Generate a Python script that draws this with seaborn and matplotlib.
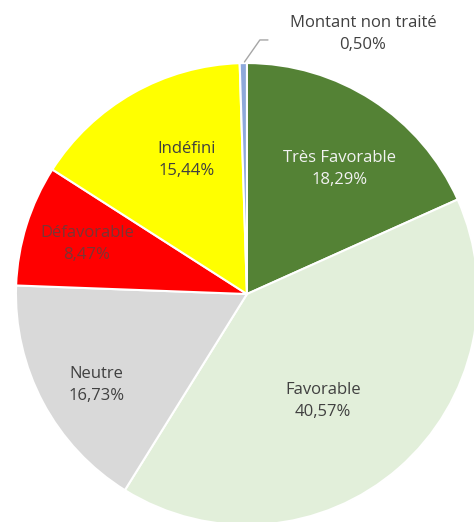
import numpy as np
import matplotlib
matplotlib.use("Agg")
import matplotlib.pyplot as plt
import seaborn as sns

# Data
categories = ["Très Favorable", "Favorable", "Neutre", "Défavorable", "Indéfini", "Montant non traité"]
shares = [18.29, 40.57, 16.73, 8.47, 15.44, 0.50]
pct_labels = ["18,29%", "40,57%", "16,73%", "8,47%", "15,44%", "0,50%"]

colors = ["#548235", "#E2EFDA", "#D9D9D9", "#FF0000", "#FFFF00", "#8EA9DB"]
text_colors = ["#F2F2F2", "#404040", "#404040", "#7A3535", "#404040", "#404040"]
# label placement: radius fraction and angle nudge (deg)
label_r = [0.675, 0.568, 0.76, 0.726, 0.635, None]
label_dang = [-3.7, -5.7, 3.2, 0, -5.5, 0]

sns.set_theme(style="white")
plt.rcParams["font.family"] = ["Open Sans", "DejaVu Sans"]

fig = plt.figure(figsize=(4.74, 5.22), dpi=100)
ax = fig.add_axes([0, 0, 1, 1])

wedges, _ = ax.pie(shares, colors=colors, startangle=90, counterclock=False,
                   wedgeprops=dict(edgecolor="white", linewidth=1.5))

for w, name, pct, tc, r, da in zip(wedges, categories, pct_labels, text_colors, label_r, label_dang):
    if r is None:
        continue
    mid = np.deg2rad((w.theta1 + w.theta2) / 2 + da)
    x, y = r * np.cos(mid), r * np.sin(mid)
    ax.text(x, y, f"{name}\n{pct}", ha="center", va="center", color=tc,
            fontsize=12, linespacing=1.5)

# small slice label outside with leader line
w = wedges[-1]
mid = np.deg2rad((w.theta1 + w.theta2) / 2)
x0, y0 = np.cos(mid), np.sin(mid)
ax.plot([x0 + 0.005, 0.056, 0.091], [y0 + 0.005, 1.10, 1.10], color="#A6A6A6", lw=1)
ax.text(0.502, 1.126, f"{categories[-1]}\n{pct_labels[-1]}", ha="center", va="center",
        color="#404040", fontsize=12, linespacing=1.5)

ax.set_xlim(-1.069, 0.983)
ax.set_ylim(-0.987, 1.273)
ax.set_aspect("equal")
ax.axis("off")

fig.savefig("out.png", dpi=100, facecolor="white")
